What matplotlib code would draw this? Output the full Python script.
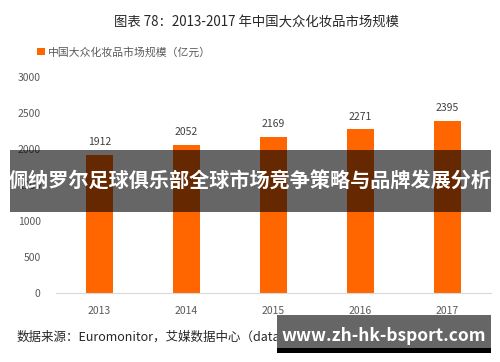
import matplotlib
matplotlib.use("Agg")
import matplotlib.pyplot as plt
from matplotlib.patches import Rectangle

plt.rcParams['font.family'] = ['Noto Sans CJK SC', 'DejaVu Sans']

years = ["2013", "2014", "2015", "2016", "2017"]
values = [1912, 2052, 2169, 2271, 2395]
yticks = [0, 500, 1000, 1500, 2000, 2500, 3000]

title = "图表 78：2013-2017 年中国大众化妆品市场规模"
legend_label = "中国大众化妆品市场规模（亿元）"
source = "数据来源：Euromonitor，艾媒数据中心（data.iimedia.cn）"
banner = "佩纳罗尔足球俱乐部全球市场竞争策略与品牌发展分析"
watermark = "www.zh-hk-bsport.com"

W, H = 500, 362
fig = plt.figure(figsize=(W/100, H/100), dpi=100)
ax = fig.add_axes([56/W, 1-293/H, 435/W, 216/H])

x = range(len(years))
ax.bar(x, values, width=0.31, color="#FF6600", label=legend_label, zorder=2)
for xi, v in zip(x, values):
    ax.text(xi, v + 110, str(v), ha="center", va="bottom", fontsize=7.5, color="#404040")

ax.set_xlim(-0.5, len(years) - 0.5)
ax.set_ylim(0, 3000)
ax.set_yticks(yticks)
ax.set_yticklabels([str(t) for t in yticks], fontsize=7.5, color="#595959")
ax.set_xticks(list(x))
ax.set_xticklabels(years, fontsize=7.5, color="#595959")
ax.tick_params(axis="both", length=0)
ax.tick_params(axis="x", pad=9)
ax.tick_params(axis="y", pad=11)
for s in ["top", "right", "left"]:
    ax.spines[s].set_visible(False)
ax.spines["bottom"].set_color("#D9D9D9")

fig.text(257/W, 1-23/H, title, ha="center", va="center", fontsize=9.6, color="#262626")
leg = ax.legend(loc="center left", bbox_to_anchor=(37/W, 1-52/H), bbox_transform=fig.transFigure,
                frameon=False, fontsize=7.8, handlelength=0.7, handleheight=0.7,
                handletextpad=0.35, borderpad=0, borderaxespad=0)
for t in leg.get_texts():
    t.set_color("#595959")

fig.text(17/W, 1-337/H, source, ha="left", va="center", fontsize=9, color="#262626")

# banner overlay
fig.patches.append(Rectangle((10/W, 1-212/H), 481/W, 62/H, transform=fig.transFigure,
                             facecolor="black", alpha=0.6, edgecolor="none", zorder=5))
fig.text(250/W, 1-181/H, banner, ha="center", va="center", fontsize=14.5,
         fontweight="bold", color="white", zorder=6)

# watermark box
fig.patches.append(Rectangle((277/W, 1-348/H), 214/W, 33/H, transform=fig.transFigure,
                             facecolor="#666666", edgecolor="none", zorder=5))
fig.patches.append(Rectangle((277/W, 1-353/H), 214/W, 5/H, transform=fig.transFigure,
                             facecolor="black", edgecolor="none", zorder=5))
fig.text(384/W, 1-336/H, watermark, ha="center", va="center", fontsize=12.5,
         fontweight="bold", color="white", zorder=6)

fig.savefig("out.png", dpi=100)
